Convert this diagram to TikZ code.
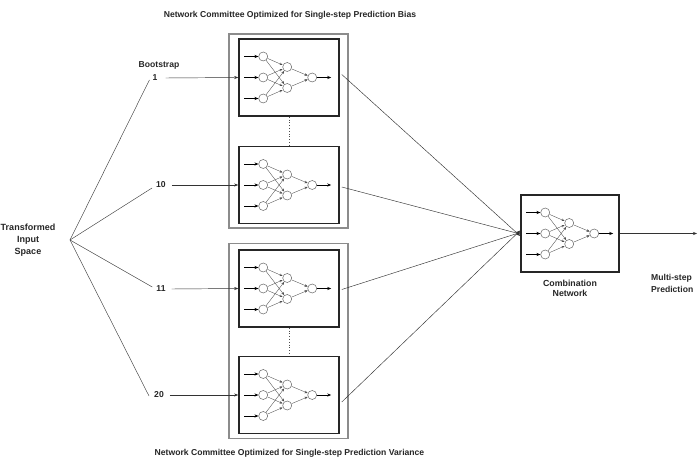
\documentclass[tikz,border=0pt]{standalone}
\usepackage{fontspec}
\setmainfont{Liberation Sans}
\usetikzlibrary{arrows.meta}
\tikzset{
  neuron/.style={circle,draw=black!60,line width=0.5pt,fill=white,minimum size=9pt,inner sep=0pt},
  inarr/.style={line width=0.9pt,-{Stealth[length=4pt,width=3.2pt]}},
  warr/.style={line width=0.35pt,draw=black!70,-{Stealth[length=3pt,width=2.6pt]},shorten >=0.3pt},
  innerbox/.style={draw=black!85,line width=1.6pt,minimum width=100pt,minimum height=77pt,inner sep=0pt},
  outerbox/.style={draw=black!45,line width=1.2pt,inner sep=0pt},
  thinarr/.style={line width=0.45pt,draw=black!80,-{Stealth[length=4pt,width=3pt]}},
  fanline/.style={line width=0.45pt,draw=black!75},
  lbl/.style={font=\fontsize{8.6}{10}\selectfont\bfseries,text=black!85,inner sep=0pt},
  numlbl/.style={font=\fontsize{8.6}{10}\selectfont\bfseries,text=black!85,inner sep=0pt},
  biglbl/.style={font=\fontsize{9}{12}\selectfont\bfseries,text=black!85,inner sep=0pt,align=center},
  nnet/.pic={
    \node[neuron] (-i1) at (25,-21) {};
    \node[neuron] (-i2) at (25,0) {};
    \node[neuron] (-i3) at (25,21) {};
    \node[neuron] (-h1) at (49,-10.5) {};
    \node[neuron] (-h2) at (49,10.5) {};
    \node[neuron] (-o) at (74,0) {};
    \coordinate (-s1) at (6,-21);
    \coordinate (-s2) at (6,0);
    \coordinate (-s3) at (6,21);
    \coordinate (-e) at (93,0);
    \foreach \i in {1,2,3}{
      \draw[inarr] (-s\i) -- (-i\i);
      \draw[warr] (-i\i) -- (-h1);
      \draw[warr] (-i\i) -- (-h2);
    }
    \draw[warr] (-h1) -- (-o);
    \draw[warr] (-h2) -- (-o);
    \draw[inarr] (-o) -- (-e);
  }
}
\begin{document}
\begin{tikzpicture}[x=1pt,y=-1pt]
\useasboundingbox (0,0) rectangle (699,462);
\fill[white] (0,0) rectangle (699,462);

% committees
\node[outerbox,minimum width=119pt,minimum height=194pt] (c1) at (288.5,131) {};
\node[outerbox,minimum width=119pt,minimum height=195pt] (c2) at (288.5,341) {};

\node[innerbox] (b1) at (289,77.5) {};
\node[innerbox] (b10) at (289,185) {};
\node[innerbox] (b11) at (289,288.5) {};
\node[innerbox] (b20) at (289,395) {};
\draw[line width=0.8pt,dotted,black!70] (b1.south) -- (b10.north);
\draw[line width=0.8pt,dotted,black!70] (b11.south) -- (b20.north);

\pic (n1) at (b1.west) {nnet};
\pic (n10) at (b10.west) {nnet};
\pic (n11) at (b11.west) {nnet};
\pic (n20) at (b20.west) {nnet};

% combination network
\node[innerbox,minimum width=98pt] (cb) at (570,233.5) {};
\pic (nc) at (cb.west) {nnet};

% labels
\node[lbl] (t1) at (290,15) {Network Committee Optimized for Single-step Prediction Bias};
\node[lbl] (t2) at (289.5,453) {Network Committee Optimized for Single-step Prediction Variance};
\node[numlbl] (bs) at (159,65) {Bootstrap};
\node[numlbl] (k1) at (155,78) {1};
\node[numlbl] (k10) at (161,185) {10};
\node[numlbl] (k11) at (161,289) {11};
\node[numlbl] (k20) at (159,395) {20};
\node[biglbl] (tis) at (28,240) {Transformed\\Input\\Space};
\node[lbl,align=center,font=\fontsize{8.8}{10}\selectfont\bfseries] (cn) at (570,288) {Combination\\Network};
\node[lbl,align=left,anchor=west,font=\fontsize{8.6}{12}\selectfont\bfseries] (mp) at (651,283) {Multi-step\\Prediction};

% fan
\coordinate (fan) at (70,240);
\draw[fanline] (fan) -- ([xshift=-3pt,yshift=-2pt]k1.west);
\draw[fanline] (fan) -- ([xshift=-4pt,yshift=-3pt]k10.west);
\draw[fanline] (fan) -- ([xshift=-4pt,yshift=2pt]k11.west);
\draw[fanline] (fan) -- ([xshift=-5pt,yshift=-1pt]k20.west);

% bootstrap arrows
\draw[thinarr] ([xshift=8pt]k1.east) -- (b1.west);
\draw[thinarr] ([xshift=6pt]k10.east) -- (b10.west);
\draw[thinarr] ([xshift=6pt]k11.east) -- (b11.west);
\draw[thinarr] ([xshift=6pt]k20.east) -- (b20.west);

% to combination
\draw[thinarr] ([xshift=2pt,yshift=3pt]b1.east) -- ([yshift=-2.5pt]cb.west);
\draw[thinarr] ([xshift=2pt,yshift=-2pt]b10.east) -- ([yshift=-0.5pt]cb.west);
\draw[thinarr] ([xshift=2pt,yshift=-1pt]b11.east) -- ([yshift=1pt]cb.west);
\draw[thinarr] ([xshift=2pt,yshift=-7pt]b20.east) -- ([yshift=3pt]cb.west);

% output
\coordinate (out) at (697,233.5);
\draw[thinarr] (cb.east) -- (out);
\end{tikzpicture}
\end{document}
